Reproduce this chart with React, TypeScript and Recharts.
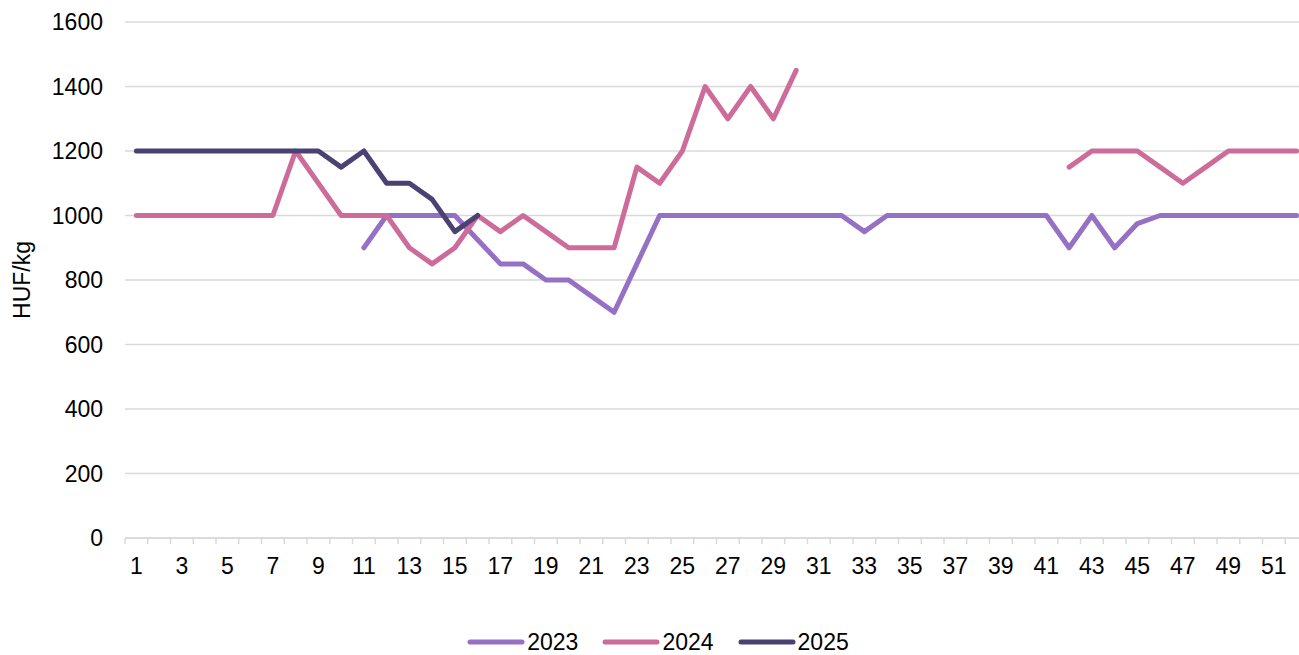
import React from 'react';
import { LineChart, Line, XAxis, YAxis, CartesianGrid, Legend, Label } from 'recharts';

const weeks = Array.from({ length: 52 }, (_, i) => String(i + 1));

// HUF/kg per week, null = no quote
const y2023 = [
  null, null, null, null, null, null, null, null, null, null,
  900, 1000, 1000, 1000, 1000, 925, 850, 850, 800, 800,
  750, 700, 850, 1000, 1000, 1000, 1000, 1000, 1000, 1000,
  1000, 1000, 950, 1000, 1000, 1000, 1000, 1000, 1000, 1000,
  1000, 900, 1000, 900, 975, 1000, 1000, 1000, 1000, 1000,
  1000, 1000,
];
const y2024 = [
  1000, 1000, 1000, 1000, 1000, 1000, 1000, 1200, 1100, 1000,
  1000, 1000, 900, 850, 900, 1000, 950, 1000, 950, 900,
  900, 900, 1150, 1100, 1200, 1400, 1300, 1400, 1300, 1450,
  null, null, null, null, null, null, null, null, null, null,
  null, 1150, 1200, 1200, 1200, 1150, 1100, 1150, 1200, 1200,
  1200, 1200,
];
const y2025 = [
  1200, 1200, 1200, 1200, 1200, 1200, 1200, 1200, 1200, 1150,
  1200, 1100, 1100, 1050, 950, 1000,
];
const yTicks = [0, 200, 400, 600, 800, 1000, 1200, 1400, 1600];

const SERIES = [
  { key: '2023', color: '#9670C4' },
  { key: '2024', color: '#CD6C9B' },
  { key: '2025', color: '#4B4173' },
];

const data = weeks.map((w, i) => ({
  week: w,
  '2023': y2023[i] ?? null,
  '2024': y2024[i] ?? null,
  '2025': y2025[i] ?? null,
}));

const FONT = '"Liberation Sans", Arial, sans-serif';
const FS = 23;
const GRID = '#D9D9D9';

const WeekTick = (props: any) => {
  const { x, y, payload, index } = props;
  const off = payload && payload.offset ? payload.offset : 11.37;
  const last = index === weeks.length - 1;
  return (
    <g>
      <line x1={x - off} x2={x - off} y1={y} y2={y + 6} stroke={GRID} strokeWidth={1.5} />
      {last && <line x1={x + off} x2={x + off} y1={y} y2={y + 6} stroke={GRID} strokeWidth={1.5} />}
      {index % 2 === 0 && (
        <text x={x} y={y + 36} textAnchor="middle" fill="#000" fontSize={FS} fontFamily={FONT}>
          {payload.value}
        </text>
      )}
    </g>
  );
};

const LegendContent = () => (
  <div style={{ display: 'flex', justifyContent: 'center', alignItems: 'center', gap: 24, height: 26, paddingLeft: 8, fontFamily: FONT, fontSize: FS }}>
    {SERIES.map((s) => (
      <div key={s.key} style={{ display: 'flex', alignItems: 'center' }}>
        <svg width={58} height={8} style={{ marginRight: 2 }}>
          <line x1={3} x2={55} y1={4} y2={4} stroke={s.color} strokeWidth={5} strokeLinecap="round" />
        </svg>
        <span>{s.key}</span>
      </div>
    ))}
  </div>
);

export default function App() {
  return (
    <div style={{ position: 'absolute', left: 0, top: 0, width: 1299, height: 655, overflow: 'hidden', background: '#fff' }}>
      <LineChart width={1308} height={655} data={data} margin={{ top: 22, right: 0, bottom: 0, left: 0 }}>
        <CartesianGrid vertical={false} stroke={GRID} strokeWidth={1.5} />
        <XAxis
          dataKey="week"
          scale="band"
          interval={0}
          tickSize={0}
          tickMargin={0}
          tickLine={false}
          axisLine={{ stroke: GRID, strokeWidth: 1.5 }}
          height={91}
          tick={<WeekTick />}
        />
        <YAxis
          domain={[0, 1600]}
          ticks={yTicks}
          width={125}
          axisLine={false}
          tickLine={false}
          tickSize={0}
          tickMargin={22}
          tick={{ fill: '#000', fontSize: FS, fontFamily: FONT }}
        >
          <Label
            content={({ viewBox }: any) => (
              <text
                x={22}
                y={viewBox.y + viewBox.height / 2}
                transform={`rotate(-90, 22, ${viewBox.y + viewBox.height / 2})`}
                textAnchor="middle"
                dominantBaseline="central"
                fontSize={FS}
                fontFamily={FONT}
                fill="#000"
              >
                HUF/kg
              </text>
            )}
          />
        </YAxis>
        <Legend verticalAlign="bottom" content={<LegendContent />} />
        {SERIES.map((s) => (
          <Line
            key={s.key}
            dataKey={s.key}
            stroke={s.color}
            strokeWidth={5}
            strokeLinecap="round"
            strokeLinejoin="round"
            dot={false}
            activeDot={false}
            connectNulls={false}
            isAnimationActive={false}
          />
        ))}
      </LineChart>
    </div>
  );
}
